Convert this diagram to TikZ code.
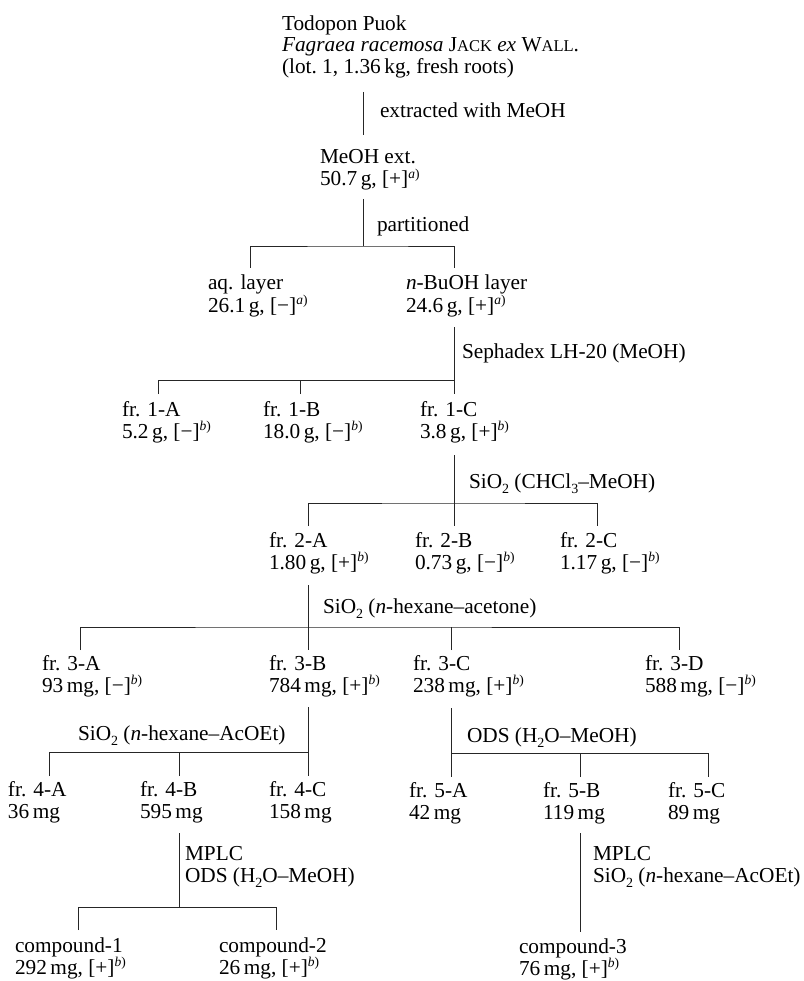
\documentclass[tikz,border=0pt]{standalone}
\usepackage{fontspec}
\setmainfont{Liberation Serif}
\newcommand\sups[1]{\raisebox{0.36em}{\fontsize{13.5}{13.5}\selectfont\textit{#1})}}
\newcommand\subs[1]{\raisebox{-0.28em}{\fontsize{14}{14}\selectfont #1}}
\newcommand\twol[2]{\vtop{\baselineskip=22pt\hbox{#1}\hbox{#2}}}
\newcommand\threel[3]{\vtop{\baselineskip=21.5pt\hbox{#1}\hbox{#2}\hbox{#3}}}
\newcommand\fsc[1]{{\fontsize{16.5}{16.5}\selectfont #1}}
\begin{document}
\begin{tikzpicture}[x=1pt,y=-1pt,
  every node/.style={inner sep=0pt, outer sep=0pt, anchor=base west, font=\fontsize{21.3}{22}\selectfont},
  conn/.style={line width=0.9pt, draw=black!85}]
\useasboundingbox (0,0) rectangle (803,981);

% ---------- text nodes ----------
\node (src) at (282,30.5) {\threel{Todopon Puok}{\textit{Fagraea racemosa} J\fsc{ACK} \textit{ex} W\fsc{ALL}.}{(lot.~1, 1.36\,kg, fresh roots)}};
\node (meoh) at (320,164) {\twol{MeOH ext.}{50.7\,g, [+]\sups{a}}};
\node (aq) at (208,290) {\twol{aq. layer}{26.1\,g, [−]\sups{a}}};
\node (bu) at (406,290) {\twol{\textit{n}-BuOH layer}{24.6\,g, [+]\sups{a}}};
\node (f1a) at (122,416) {\twol{fr. 1-A}{5.2\,g, [−]\sups{b}}};
\node (f1b) at (263,416) {\twol{fr. 1-B}{18.0\,g, [−]\sups{b}}};
\node (f1c) at (420,416) {\twol{fr. 1-C}{3.8\,g, [+]\sups{b}}};
\node (f2a) at (269,547) {\twol{fr. 2-A}{1.80\,g, [+]\sups{b}}};
\node (f2b) at (415,547) {\twol{fr. 2-B}{0.73\,g, [−]\sups{b}}};
\node (f2c) at (560,547) {\twol{fr. 2-C}{1.17\,g, [−]\sups{b}}};
\node (f3a) at (42,670) {\twol{fr. 3-A}{93\,mg, [−]\sups{b}}};
\node (f3b) at (269,670) {\twol{fr. 3-B}{784\,mg, [+]\sups{b}}};
\node (f3c) at (413,670) {\twol{fr. 3-C}{238\,mg, [+]\sups{b}}};
\node (f3d) at (645,670) {\twol{fr. 3-D}{588\,mg, [−]\sups{b}}};
\node (f4a) at (8,796) {\twol{fr. 4-A}{36\,mg}};
\node (f4b) at (140,796) {\twol{fr. 4-B}{595\,mg}};
\node (f4c) at (269,796) {\twol{fr. 4-C}{158\,mg}};
\node (f5a) at (409,797) {\twol{fr. 5-A}{42\,mg}};
\node (f5b) at (543,797) {\twol{fr. 5-B}{119\,mg}};
\node (f5c) at (668,797) {\twol{fr. 5-C}{89\,mg}};
\node (cp1) at (15,952.5) {\twol{compound-1}{292\,mg, [+]\sups{b}}};
\node (cp2) at (219,952.5) {\twol{compound-2}{26\,mg, [+]\sups{b}}};
\node (cp3) at (519,953.5) {\twol{compound-3}{76\,mg, [+]\sups{b}}};

% ---------- step labels ----------
\node (lab1) at (380,118) {extracted with MeOH};
\node (lab2) at (377,232) {partitioned};
\node (lab3) at (462,358) {Sephadex LH-20 (MeOH)};
\node (lab4) at (469,488) {SiO\subs{2} (CHCl\subs{3}–MeOH)};
\node (lab5) at (323,613) {SiO\subs{2} (\textit{n}-hexane–acetone)};
\node (lab6) at (78,740) {SiO\subs{2} (\textit{n}-hexane–AcOEt)};
\node (lab7) at (467,742) {ODS (H\subs{2}O–MeOH)};
\node (lab8) at (185,860) {\twol{MPLC}{ODS (H\subs{2}O–MeOH)}};
\node (lab9) at (593,860) {\twol{MPLC}{SiO\subs{2} (\textit{n}-hexane–AcOEt)}};

% ---------- junction coordinates ----------
\coordinate (src-out) at (363,92);  \coordinate (meoh-in) at (363,135);
\coordinate (meoh-out) at (363,199); \coordinate (bus1) at (363,246);
\coordinate (aq-in) at (250,268);   \coordinate (bu-in) at (454,268);
\coordinate (bu-out) at (454,327);  \coordinate (bus2) at (454,380);
\coordinate (f1a-in) at (158,394);  \coordinate (f1b-in) at (300,394); \coordinate (f1c-in) at (454,394);
\coordinate (f1c-out) at (454,455); \coordinate (bus3) at (454,503);
\coordinate (f2a-in) at (308,526);  \coordinate (f2b-in) at (454,526); \coordinate (f2c-in) at (597,526);
\coordinate (f2a-out) at (308,585); \coordinate (bus4) at (308,627);
\coordinate (f3a-in) at (80,650);   \coordinate (f3b-in) at (308,650); \coordinate (f3c-in) at (451,650); \coordinate (f3d-in) at (679,650);
\coordinate (f3b-out) at (308,707); \coordinate (bus5) at (308,752);
\coordinate (f4a-in) at (49,776);   \coordinate (f4b-in) at (179,776); \coordinate (f4c-in) at (308,776);
\coordinate (f3c-out) at (451,708); \coordinate (bus6) at (451,753);
\coordinate (f5a-in) at (451,777);  \coordinate (f5b-in) at (580,777); \coordinate (f5c-in) at (708,777);
\coordinate (f4b-out) at (179,833); \coordinate (bus7) at (179,907);
\coordinate (cp1-in) at (78,930);   \coordinate (cp2-in) at (276,930);
\coordinate (f5b-out) at (580,833); \coordinate (cp3-in) at (580,932);

% ---------- connectors ----------
\draw[conn] (src-out) -- (meoh-in);
\draw[conn] (meoh-out) -- (bus1);
\draw[conn] (aq-in) |- (bus1) -| (bu-in);
\draw[conn] (bu-out) -- (f1c-in);
\draw[conn] (f1a-in) |- (bus2);
\draw[conn] (f1b-in) -- (f1b-in |- bus2);
\draw[conn] (f1c-out) -- (f2b-in);
\draw[conn] (f2a-in) |- (bus3) -| (f2c-in);
\draw[conn] (f2a-out) -- (f3b-in);
\draw[conn] (f3a-in) |- (bus4) -| (f3d-in);
\draw[conn] (f3c-in) -- (f3c-in |- bus4);
\draw[conn] (f3b-out) -- (f4c-in);
\draw[conn] (f4a-in) |- (bus5);
\draw[conn] (f4b-in) -- (f4b-in |- bus5);
\draw[conn] (f3c-out) -- (f5a-in);
\draw[conn] (bus6) -| (f5c-in);
\draw[conn] (f5b-in) -- (f5b-in |- bus6);
\draw[conn] (f4b-out) -- (bus7);
\draw[conn] (cp1-in) |- (bus7) -| (cp2-in);
\draw[conn] (f5b-out) -- (cp3-in);
\end{tikzpicture}
\end{document}
